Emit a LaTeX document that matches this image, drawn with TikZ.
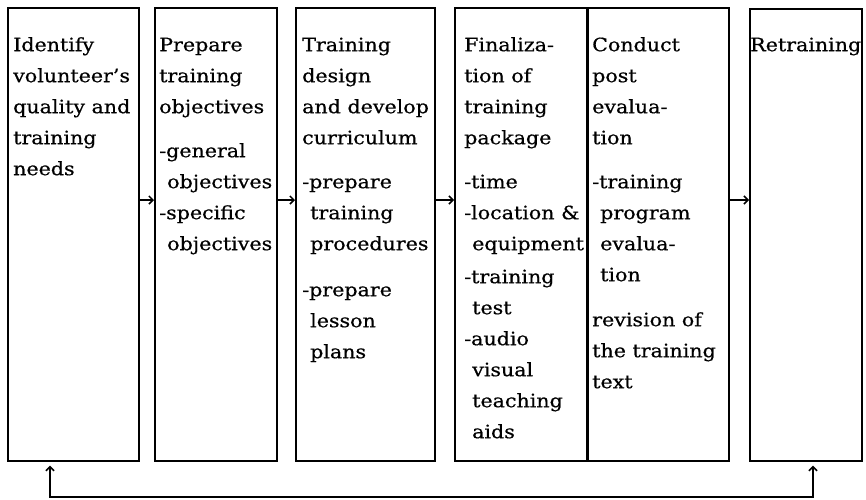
\documentclass[tikz,border=0pt]{standalone}
\usepackage{fontspec}
\setmainfont[FakeStretch=1.12,FakeBold=0.6]{DejaVu Serif}
\usetikzlibrary{arrows.meta}
\begin{document}
\begin{tikzpicture}[x=1pt,y=-1pt,
  stage/.style={draw, line width=1.7pt, inner sep=0pt, minimum width=#1, minimum height=453pt, anchor=north west},
  stage/.default=120pt,
  txt/.style={anchor=north west, inner sep=0pt, align=left, font=\fontsize{18.4}{31}\selectfont},
  arr/.style={line width=1.5pt, -{Straight Barb[length=4pt,width=8pt]}},
  loop/.style={line width=1.5pt, {Straight Barb[length=4pt,width=8pt]}-{Straight Barb[length=4pt,width=8pt]}, shorten <=4pt, shorten >=4pt}]
\useasboundingbox (0,0) rectangle (866,499);
\newcommand{\ind}{\hspace*{8pt}}
% process stages
\node[stage=131pt] (b1) at (7,7) {};
\node[stage=122pt] (b2) at (154,7) {};
\node[stage=139pt] (b3) at (295,7) {};
\node[stage=132pt] (b4) at (454,7) {};
\node[stage=141pt] (b5) at (587,7) {};
\node[stage=112pt,minimum height=452pt] (b6) at (749,8) {};
% stage texts
\node[txt] (t1) at (13,29.3) {\strut Identify\\volunteer’s\\quality and\\training\\needs};
\node[txt] (t2) at (159,29.3) {\strut Prepare\\training\\objectives\\[13pt]-general\\\ind objectives\\-specific\\\ind objectives};
\node[txt] (t3) at (302,29.3) {\strut Training\\design\\and develop\\curriculum\\[13pt]-prepare\\\ind training\\\ind procedures\\[15pt]-prepare\\\ind lesson\\\ind plans};
\node[txt] (t4) at (464,29.3) {\strut Finaliza-\\tion of\\training\\package\\[13pt]-time\\-location \&\\\ind equipment\\[2pt]-training\\\ind test\\-audio\\\ind visual\\\ind teaching\\\ind aids};
\node[txt] (t5) at (592,29.3) {\strut Conduct\\post\\evalua-\\tion\\[13pt]-training\\\ind program\\\ind evalua-\\\ind tion\\[14pt]revision of\\the training\\text};
\node[txt] (t6) at (750,29.3) {\strut Retraining};
% forward arrows
\coordinate (ay) at (0,200);
\draw[arr] (b1.east |- ay) -- (b2.west |- ay);
\draw[arr] (b2.east |- ay) -- (b3.west |- ay);
\draw[arr] (b3.east |- ay) -- (b4.west |- ay);
\draw[arr] (b5.east |- ay) -- (b6.west |- ay);
% feedback loop
\coordinate (fl) at (50,497);
\coordinate (fr) at (813,497);
\draw[loop] (b1.south -| fl) -- (fl) -- (fr) -- (b6.south -| fr);
\end{tikzpicture}
\end{document}
